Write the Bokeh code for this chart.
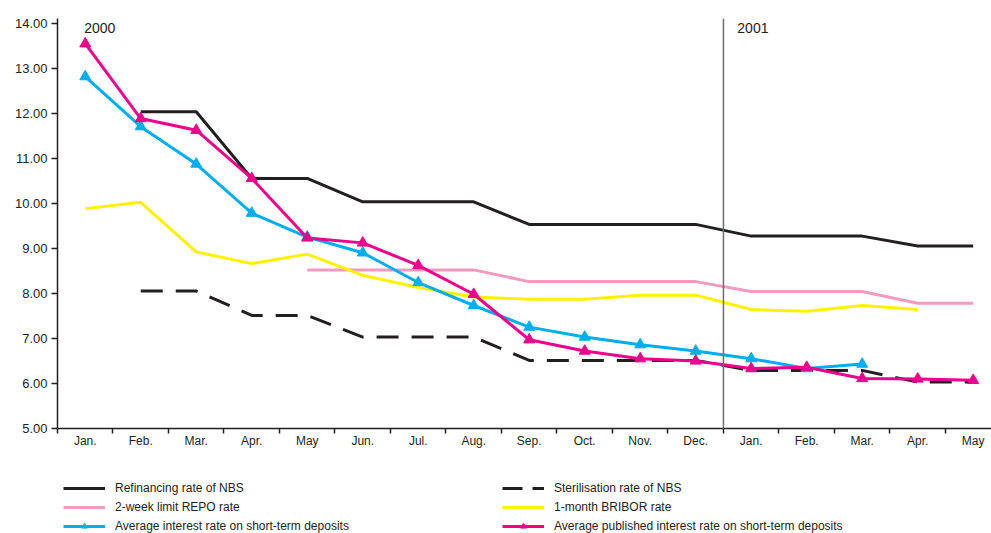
import numpy as np
from bokeh.plotting import figure
from bokeh.layouts import column
from bokeh.models import (Range1d, FixedTicker, Label, Span, Legend, LegendItem,
                          PrintfTickFormatter)
from bokeh.embed import file_html
from bokeh.resources import INLINE

months = ["Jan.", "Feb.", "Mar.", "Apr.", "May", "Jun.", "Jul.", "Aug.", "Sep.",
          "Oct.", "Nov.", "Dec.", "Jan.", "Feb.", "Mar.", "Apr.", "May"]
refinancing = [None, 12.03, 12.03, 10.55, 10.55, 10.03, 10.03, 10.03, 9.53, 9.53,
               9.53, 9.53, 9.27, 9.27, 9.27, 9.05, 9.05]
sterilisation = [None, 8.05, 8.05, 7.51, 7.51, 7.03, 7.03, 7.03, 6.51, 6.51,
                 6.51, 6.51, 6.29, 6.29, 6.29, 6.03, 6.03]
repo = [None, None, None, None, 8.52, 8.52, 8.52, 8.52, 8.26, 8.26, 8.26, 8.26,
        8.04, 8.04, 8.04, 7.78, 7.78]
bribor = [9.88, 10.02, 8.92, 8.66, 8.87, 8.40, 8.13, 7.92, 7.87, 7.87, 7.96, 7.96,
          7.64, 7.60, 7.73, 7.64, None]
avg_deposits = [12.81, 11.70, 10.87, 9.78, 9.25, 8.90, 8.24, 7.73, 7.25, 7.03, 6.86,
                6.72, 6.55, 6.33, 6.43, None, None]
avg_published = [13.54, 11.88, 11.62, 10.55, 9.23, 9.12, 8.62, 7.98, 6.97, 6.72,
                 6.55, 6.50, 6.33, 6.36, 6.11, 6.10, 6.07]
year_labels = ["2000", "2001"]
y_ticks = [5, 6, 7, 8, 9, 10, 11, 12, 13, 14]

FONT = "Liberation Sans"
INK = "#231F20"
C_REPO = "#F49AC1"
C_BRI = "#FFF200"
C_DEP = "#00AEEF"
C_PUB = "#EC008C"

def arr(v):
    return np.array([np.nan if a is None else a for a in v], dtype=float)

x = np.arange(len(months))

p = figure(width=991, height=460, output_backend="svg", toolbar_location=None,
           x_range=Range1d(-0.5, 16.33), y_range=Range1d(5, 14.1),
           min_border_left=57, min_border_right=0, min_border_top=18,
           min_border_bottom=32)
p.outline_line_color = None
p.xgrid.visible = False
p.ygrid.visible = False

# axes
p.xaxis.ticker = FixedTicker(ticks=list(x), minor_ticks=[i + 0.5 for i in range(-1, 17)])
p.xaxis.major_label_overrides = {int(i): months[i] for i in x}
p.xaxis.major_tick_out = 0
p.xaxis.major_tick_in = 0
p.xaxis.minor_tick_out = 5
p.xaxis.minor_tick_in = 0
p.xaxis.major_label_standoff = 0
p.yaxis.ticker = FixedTicker(ticks=y_ticks, minor_ticks=[])
p.yaxis.formatter = PrintfTickFormatter(format="%.2f")
p.yaxis.major_tick_out = 6
p.yaxis.major_tick_in = 0
p.yaxis.minor_tick_out = 0
p.yaxis.minor_tick_in = 0
p.yaxis.major_label_standoff = 4
for ax in (p.xaxis[0], p.yaxis[0]):
    ax.axis_line_color = INK
    ax.axis_line_width = 1.5
    ax.major_tick_line_color = INK
    ax.major_tick_line_width = 1.5
    ax.minor_tick_line_color = INK
    ax.minor_tick_line_width = 1.5
    ax.major_label_text_font = FONT
    ax.major_label_text_color = INK
p.xaxis.major_label_text_font_size = "12px"
p.yaxis.major_label_text_font_size = "13px"

# year separator
p.add_layout(Span(location=11.5, dimension="height", line_color="#6D6E71", line_width=1.5))

def draw_series(fig, dash):
    r = {}
    r["ref"] = [fig.line(x, arr(refinancing), line_color=INK, line_width=3)]
    r["ster"] = [fig.line(x, arr(sterilisation), line_color=INK, line_width=3,
                          line_dash=dash)]
    r["repo"] = [fig.line(x, arr(repo), line_color=C_REPO, line_width=3)]
    r["bri"] = [fig.line(x, arr(bribor), line_color=C_BRI, line_width=3)]
    r["dep"] = [fig.line(x, arr(avg_deposits), line_color=C_DEP, line_width=3)]
    r["pub"] = [fig.line(x, arr(avg_published), line_color=C_PUB, line_width=3)]
    return r

draw_series(p, "22 13")
p.scatter(x, arr(avg_deposits), marker="triangle", size=11, fill_color=C_DEP,
          line_color=C_DEP)
p.scatter(x, arr(avg_published), marker="triangle", size=11, fill_color=C_PUB,
          line_color=C_PUB)

for txt, xv in zip(year_labels, [-0.02, 11.75]):
    p.add_layout(Label(x=xv, y=14, y_offset=0, text=txt, text_font=FONT,
                       text_font_size="14px", text_color=INK, text_baseline="top"))

# legend panel (separate figure below the chart; its ranges keep the data out of view)
lg = figure(width=991, height=73, output_backend="svg", toolbar_location=None,
            x_range=Range1d(100, 101), y_range=Range1d(100, 101),
            x_axis_location=None, y_axis_location=None,
            min_border_left=0, min_border_right=0, min_border_top=0,
            min_border_bottom=0)
lg.outline_line_color = None
lg.grid.visible = False

g = draw_series(lg, "20 10")
g["dep"].append(lg.scatter(x, arr(avg_deposits), marker="triangle", size=6,
                           fill_color=C_DEP, line_color=C_DEP))
g["pub"].append(lg.scatter(x, arr(avg_published), marker="triangle", size=6,
                           fill_color=C_PUB, line_color=C_PUB))

def make_legend(items, loc):
    leg = Legend(items=items, location=loc, orientation="vertical",
                 glyph_width=42, glyph_height=14, label_standoff=10, spacing=5,
                 padding=0, margin=0, border_line_color=None,
                 background_fill_alpha=0, label_text_font=FONT,
                 label_text_font_size="12px", label_text_color=INK,
                 label_height=14)
    lg.add_layout(leg, "center")

make_legend([LegendItem(label="Refinancing rate of NBS", renderers=g["ref"]),
             LegendItem(label="2-week limit REPO rate", renderers=g["repo"]),
             LegendItem(label="Average interest rate on short-term deposits",
                        renderers=g["dep"])], (6, 0))
make_legend([LegendItem(label="Sterilisation rate of NBS", renderers=g["ster"]),
             LegendItem(label="1-month BRIBOR rate", renderers=g["bri"]),
             LegendItem(label="Average published interest rate on short-term deposits",
                        renderers=g["pub"])], (445, 0))

layout = column(p, lg, spacing=0)
open("out.html", "w").write(file_html(layout, INLINE))
